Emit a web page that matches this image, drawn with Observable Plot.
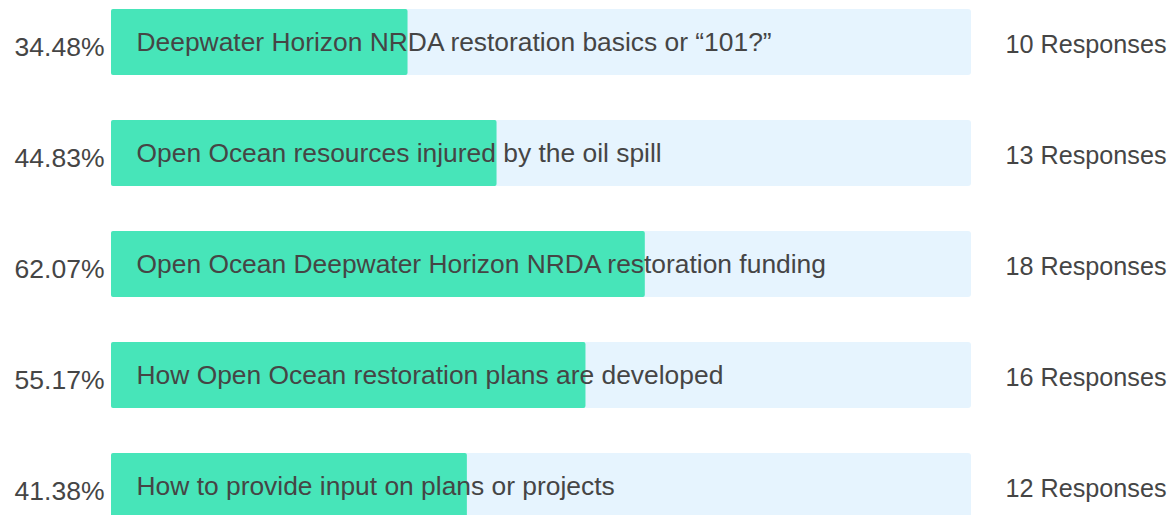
<!DOCTYPE html>
<html>
<head>
<meta charset="utf-8">
<script src="https://cdn.jsdelivr.net/npm/d3@7"></script>
<script src="https://cdn.jsdelivr.net/npm/@observablehq/plot@0.6"></script>
<style>
  html, body { margin: 0; padding: 0; background: #fff; }
  #chart svg { display: block; }
</style>
</head>
<body>
<div id="chart"></div>
<script>
const topics = [
  "Deepwater Horizon NRDA restoration basics or \u201C101?\u201D",
  "Open Ocean resources injured by the oil spill",
  "Open Ocean Deepwater Horizon NRDA restoration funding",
  "How Open Ocean restoration plans are developed",
  "How to provide input on plans or projects"
];
const percents = [34.48, 44.83, 62.07, 55.17, 41.38];
const responses = [10, 13, 18, 16, 12];

const rows = topics.map((t, i) => ({topic: t, pct: percents[i], n: responses[i]}));

const font = "'Liberation Sans', Arial, Helvetica, sans-serif";
const textColor = "#454545";

const chart = Plot.plot({
  width: 1176,
  height: 515,
  margin: 0,
  style: {fontFamily: font, background: "#fff", overflow: "hidden"},
  x: {domain: [0, 100], range: [111, 971], axis: null},
  y: {domain: topics, range: [8, 520], paddingInner: 0.408, paddingOuter: 0, axis: null},
  marks: [
    Plot.barX(rows, {y: "topic", x1: 0, x2: 100, fill: "#E6F4FE", rx: 3}),
    Plot.barX(rows, {y: "topic", x1: 0, x2: "pct", fill: "#47E5B9", rx: 2}),
    Plot.text(rows, {y: "topic", x: 0, text: "topic", textAnchor: "start", dx: 25, fontSize: 26.4, fill: textColor}),
    Plot.text(rows, {y: "topic", x: 0, text: d => d.pct.toFixed(2) + "%", textAnchor: "end", dx: -7, dy: 5, fontSize: 26.5, fill: textColor}),
    Plot.text(rows, {y: "topic", x: 100, text: d => d.n + " Responses", textAnchor: "start", dx: 34, dy: 2, fontSize: 25.2, fill: textColor})
  ]
});
document.getElementById("chart").appendChild(chart);
</script>
</body>
</html>
